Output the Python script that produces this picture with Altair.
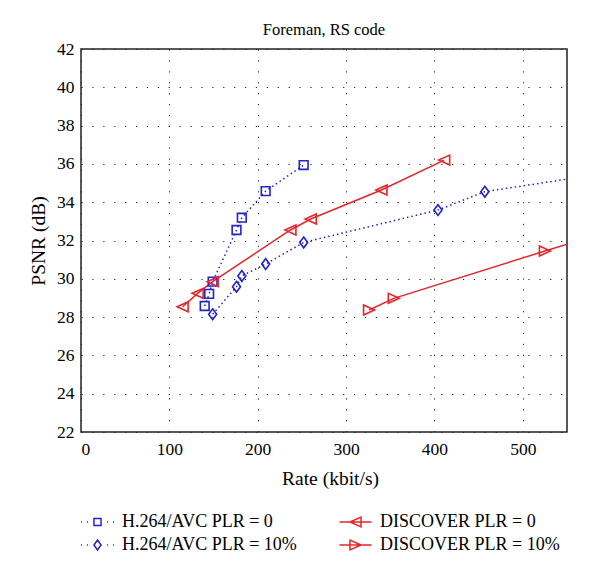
import altair as alt
import pandas as pd

# ---- data ----
h264_0_rate = [140, 145, 149, 176, 182, 209, 252]
h264_0_psnr = [28.58, 29.21, 29.85, 32.55, 33.19, 34.58, 35.94]

h264_10_rate = [149, 176, 182, 209, 252, 404, 457, 620]
h264_10_psnr = [28.15, 29.59, 30.15, 30.77, 31.90, 33.59, 34.55, 35.70]

disc_0_rate = [115, 132, 149, 237, 260, 340, 411]
disc_0_psnr = [28.54, 29.24, 29.85, 32.55, 33.12, 34.64, 36.20]

disc_10_rate = [326, 354, 525, 600]
disc_10_psnr = [28.37, 28.98, 31.45, 32.50]

H0 = "H.264/AVC PLR = 0"
H10 = "H.264/AVC PLR = 10%"
D0 = "DISCOVER PLR = 0"
D10 = "DISCOVER PLR = 10%"
series_order = [H0, H10, D0, D10]

x_ticks = [0, 100, 200, 300, 400, 500]
y_ticks = [22, 24, 26, 28, 30, 32, 34, 36, 38, 40, 42]

rows = []
for name, rates, psnrs in [(H0, h264_0_rate, h264_0_psnr), (H10, h264_10_rate, h264_10_psnr),
                           (D0, disc_0_rate, disc_0_psnr), (D10, disc_10_rate, disc_10_psnr)]:
    for r, p in zip(rates, psnrs):
        rows.append({"series": name, "rate": r, "psnr": p})
df = pd.DataFrame(rows)

FONT = "Liberation Serif"
BLUE = "#2323c8"
RED = "#e3262b"

# marker paths
SQ = "M-1,-1L1,-1L1,1L-1,1Z"
DIA = "M0,-1.35L1,0L0,1.35L-1,0Z"
TRI_L = "M-1,0L1,-0.9L1,0.9Z"
TRI_R = "M1,0L-1,-0.9L-1,0.9Z"

# legend symbol paths (line + marker), unit = 8 px
DOTS = "M-2.06,0L-1.94,0M-1.31,0L-1.19,0M1.19,0L1.31,0M1.94,0L2.06,0"
LEG_H0 = DOTS + "M-0.44,-0.44L0.44,-0.44L0.44,0.44L-0.44,0.44Z"
LEG_H10 = DOTS + "M0,-0.62L0.44,0L0,0.62L-0.44,0Z"
LEG_D0 = "M-2,0L2,0M-0.69,0L0.69,-0.62L0.69,0.62Z"
LEG_D10 = "M-2,0L2,0M0.69,0L-0.69,-0.62L-0.69,0.62Z"

x_enc = alt.X("rate:Q",
              scale=alt.Scale(domain=[0, 550], nice=False, zero=False),
              axis=alt.Axis(values=x_ticks, title="Rate (kbit/s)", labelPadding=8,
                            titlePadding=12, titleX=249))
y_enc = alt.Y("psnr:Q",
              scale=alt.Scale(domain=[22, 42], nice=False, zero=False),
              axis=alt.Axis(values=y_ticks, title="PSNR (dB)", labelPadding=7,
                            titlePadding=8))

base = alt.Chart(df)

blue_lines = base.transform_filter(
    alt.FieldOneOfPredicate(field="series", oneOf=[H0, H10])
).mark_line(color=BLUE, strokeDash=[1.5, 3], strokeWidth=1.5, clip=True).encode(
    x=x_enc, y=y_enc, detail="series:N")

red_lines = base.transform_filter(
    alt.FieldOneOfPredicate(field="series", oneOf=[D0, D10])
).mark_line(color=RED, strokeWidth=1.5, clip=True).encode(
    x=x_enc, y=y_enc, detail="series:N")

def pts(name, shape, size, color):
    return base.transform_filter(alt.datum.series == name).mark_point(
        shape=shape, size=size, color=color, filled=False, strokeWidth=1.6,
        opacity=1, clip=True).encode(x=x_enc, y=y_enc)

p_h0 = pts(H0, SQ, 76, BLUE)
p_h10 = pts(H10, DIA, 64, BLUE)
p_d0 = pts(D0, TRI_L, 121, RED)
p_d10 = pts(D10, TRI_R, 121, RED)

leg_props = dict(orient="none", legendX=7.5, legendY=464, columns=2, title=None,
                 symbolSize=256, symbolStrokeWidth=1.5, symbolOpacity=1,
                 labelFont=FONT, labelFontSize=18, labelColor="black",
                 labelLimit=400, labelOffset=15.5, columnPadding=39, rowPadding=5,
                 padding=0)

legend_layer = base.mark_point(filled=False, opacity=0, size=256, strokeWidth=1.5,
                               clip=True).encode(
    x=x_enc, y=y_enc,
    color=alt.Color("series:N",
                    scale=alt.Scale(domain=series_order, range=[BLUE, BLUE, RED, RED]),
                    legend=alt.Legend(**leg_props)),
    shape=alt.Shape("series:N",
                    scale=alt.Scale(domain=series_order,
                                    range=[LEG_H0, LEG_H10, LEG_D0, LEG_D10]),
                    legend=alt.Legend(**leg_props)),
)

chart = alt.layer(
    blue_lines, red_lines, p_h0, p_h10, p_d0, p_d10, legend_layer
).properties(
    width=486, height=383,
    title=alt.TitleParams("Foreman, RS code", font=FONT, fontSize=16.5,
                          fontWeight="normal", color="black", anchor="middle",
                          frame="group", offset=2),
    autosize=alt.AutoSizeParams(type="none"),
    padding={"left": 73, "top": 41, "right": 25, "bottom": 130},
).configure(
    font=FONT
).configure_view(
    stroke="#222", strokeWidth=1.5
).configure_axis(
    labelFont=FONT, labelFontSize=17.5, labelColor="black",
    titleFont=FONT, titleFontSize=19.5, titleColor="black", titleFontWeight="normal",
    domain=False, ticks=False,
    grid=True, gridColor="#222", gridDash=[1.2, 9.7], gridWidth=1, gridOpacity=1,
)

chart.save("out.html", embed_options={"renderer": "svg", "actions": False})
